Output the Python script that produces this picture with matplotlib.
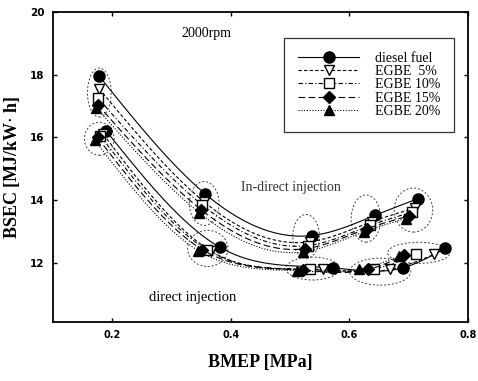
import numpy as np
import matplotlib.pyplot as plt
from matplotlib.patches import Ellipse

# BMEP [MPa] and BSEC [MJ/kWh] at 2000 rpm
fuels = ['diesel fuel', 'EGBE  5%', 'EGBE 10%', 'EGBE 15%', 'EGBE 20%']

# in-direct injection engine
idi_bmep = [
    [0.178, 0.357, 0.537, 0.643, 0.715],
    [0.178, 0.355, 0.533, 0.638, 0.710],
    [0.176, 0.352, 0.530, 0.635, 0.705],
    [0.175, 0.350, 0.525, 0.630, 0.700],
    [0.173, 0.347, 0.522, 0.625, 0.695],
]
idi_bsec = [
    [17.95, 14.20, 12.88, 13.52, 14.05],
    [17.55, 13.95, 12.68, 13.32, 13.75],
    [17.25, 13.85, 12.56, 13.20, 13.62],
    [17.05, 13.70, 12.46, 13.10, 13.50],
    [16.95, 13.60, 12.36, 13.00, 13.42],
]

# direct injection engine
di_bmep = [
    [0.190, 0.382, 0.572, 0.690, 0.762],
    [0.185, 0.367, 0.555, 0.668, 0.743],
    [0.180, 0.360, 0.533, 0.642, 0.712],
    [0.175, 0.352, 0.522, 0.632, 0.692],
    [0.170, 0.345, 0.512, 0.617, 0.683],
]
di_bsec = [
    [16.20, 12.50, 11.85, 11.85, 12.48],
    [16.10, 12.38, 11.80, 11.80, 12.28],
    [16.05, 12.42, 11.80, 11.82, 12.28],
    [16.00, 12.43, 11.78, 11.80, 12.25],
    [15.92, 12.40, 11.76, 11.80, 12.22],
]

# operating-point groups: centre x, centre y, width, height
group_x = [0.178, 0.355, 0.527, 0.628, 0.708, 0.178, 0.361, 0.538, 0.652, 0.717]
group_y = [17.43, 13.90, 12.85, 13.42, 13.69, 15.96, 12.47, 11.83, 11.73, 12.33]
group_w = [0.040, 0.050, 0.045, 0.050, 0.065, 0.050, 0.068, 0.090, 0.103, 0.105]
group_h = [1.56, 1.40, 1.40, 1.50, 1.40, 1.05, 1.15, 0.73, 0.86, 0.67]

styles = [
    dict(ls='-', marker='o', mfc='black'),
    dict(ls=(0, (3, 2)), marker='v', mfc='white'),
    dict(ls=(0, (4, 2, 1, 2)), marker='s', mfc='white'),
    dict(ls=(0, (6, 3)), marker='D', mfc='black'),
    dict(ls=(0, (1, 1.5)), marker='^', mfc='black'),
]
msizes = [8, 7, 6.5, 6.5, 7]


def smooth(x, y, n=120):
    # natural cubic spline through the points
    x = np.asarray(x, float)
    y = np.asarray(y, float)
    k = len(x)
    h = np.diff(x)
    A = np.zeros((k, k))
    b = np.zeros(k)
    A[0, 0] = A[-1, -1] = 1
    for i in range(1, k - 1):
        A[i, i - 1] = h[i - 1]
        A[i, i] = 2 * (h[i - 1] + h[i])
        A[i, i + 1] = h[i]
        b[i] = 6 * ((y[i + 1] - y[i]) / h[i] - (y[i] - y[i - 1]) / h[i - 1])
    M = np.linalg.solve(A, b)
    xs = np.linspace(x[0], x[-1], n)
    j = np.clip(np.searchsorted(x, xs) - 1, 0, k - 2)
    t0 = x[j + 1] - xs
    t1 = xs - x[j]
    hj = h[j]
    ys = (M[j] * t0 ** 3 + M[j + 1] * t1 ** 3) / (6 * hj) \
        + (y[j] / hj - M[j] * hj / 6) * t0 + (y[j + 1] / hj - M[j + 1] * hj / 6) * t1
    return xs, ys


plt.rcParams['font.family'] = ['Liberation Serif', 'DejaVu Serif']
fig = plt.figure(figsize=(4.78, 3.81), dpi=100)
ax = fig.add_axes([0.111, 0.155, 0.868, 0.814])

for i in range(len(fuels)):
    st = styles[i]
    for xs, ys in ((idi_bmep[i], idi_bsec[i]), (di_bmep[i], di_bsec[i])):
        sx, sy = smooth(xs, ys)
        ax.plot(sx, sy, color='black', lw=0.8, ls=st['ls'])
        ax.plot(xs, ys, ls='none', marker=st['marker'], ms=msizes[i],
                mfc=st['mfc'], mec='black', mew=1.0)
    # legend entry
    ax.plot([], [], color='black', lw=0.8, ls=st['ls'], marker=st['marker'],
            ms=msizes[i], mfc=st['mfc'], mec='black', label=fuels[i])

for cx, cy, w, h in zip(group_x, group_y, group_w, group_h):
    ax.add_patch(Ellipse((cx, cy), w, h, fill=False, ec='0.25', lw=0.7,
                         ls=(0, (2, 2))))

ax.text(0.317, 19.3, '2000rpm', fontsize=10, va='center')
ax.text(0.417, 14.4, 'In-direct injection', fontsize=10, va='center', color='0.2')
ax.text(0.262, 10.92, 'direct injection', fontsize=10.5, va='center')

ax.set_xlim(0.1, 0.8)
ax.set_ylim(10.13, 20)
ax.set_xticks([0.2, 0.4, 0.6, 0.8])
ax.set_yticks([12, 14, 16, 18, 20])
ax.set_xticklabels(['0.2', '0.4', '0.6', '0.8'], family='DejaVu Sans',
                   fontsize=7, fontweight='bold')
ax.set_yticklabels(['12', '14', '16', '18', '20'], family='DejaVu Sans',
                   fontsize=7.5, fontweight='bold')
ax.tick_params(direction='in', length=3, width=1, top=True, right=True, pad=6)
for sp in ax.spines.values():
    sp.set_linewidth(1.3)

ax.set_xlabel('BMEP [MPa]', fontsize=13, fontweight='bold', labelpad=10)
ax.set_ylabel('BSEC [MJ/kW$\\cdot$ h]', fontsize=13, fontweight='bold', labelpad=6)

leg = ax.legend(loc='upper right', bbox_to_anchor=(0.966, 0.916), fontsize=10,
                handlelength=4.4, handletextpad=1.1, frameon=True, fancybox=False,
                edgecolor='black', borderpad=1.0, labelspacing=0.02,
                borderaxespad=0)
leg.get_frame().set_linewidth(0.9)

fig.savefig('out.png', dpi=100)
